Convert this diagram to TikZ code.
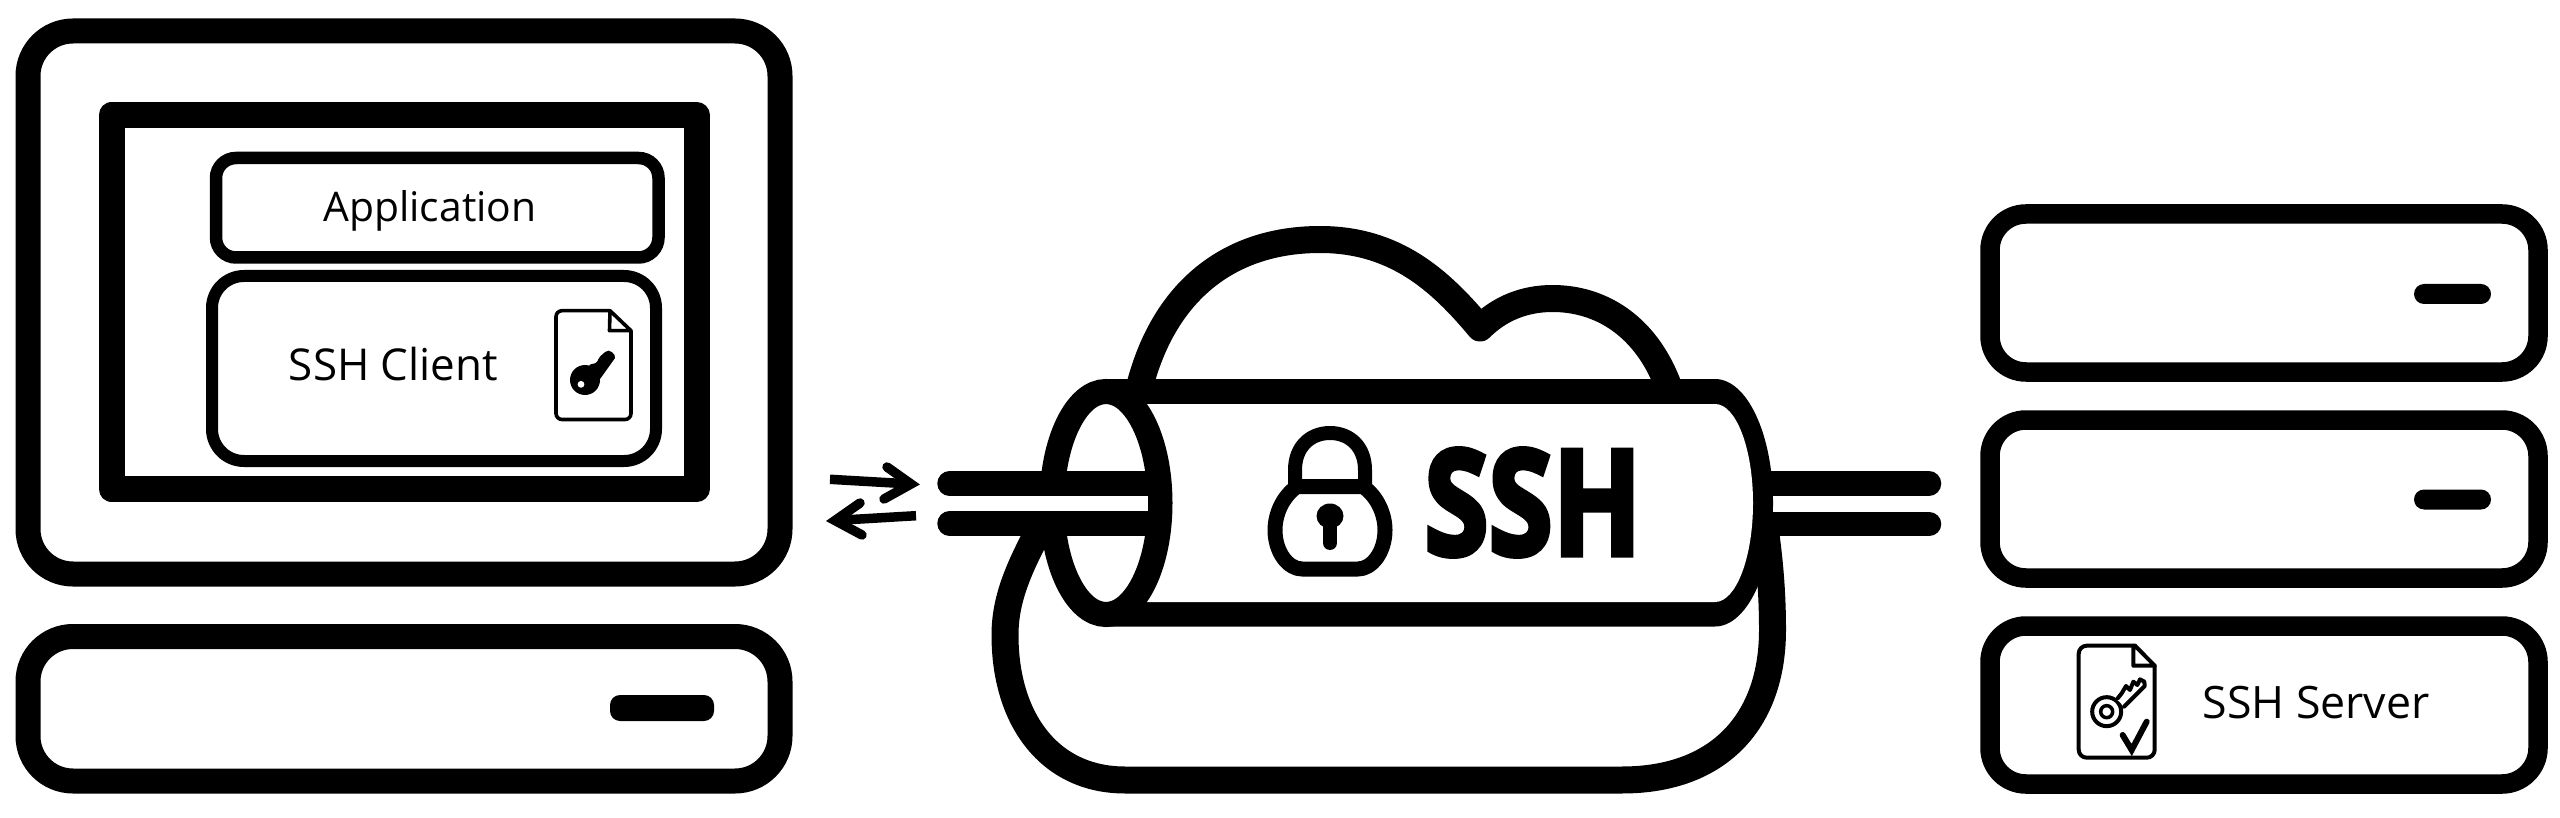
\documentclass[tikz,border=0pt]{standalone}
\usepackage{fontspec}
\usepackage{graphicx}
\setmainfont{Open Sans}
\newfontfamily\heavyf[BoldFeatures={FakeBold=4}]{Open Sans}
\tikzset{
  pic px/.style={x=1pt,y=-1pt},
  case/.style={draw=black,fill=white,line width=25pt,rounded corners=45pt,inner sep=0pt},
  screen/.style={draw=black,fill=white,line width=26pt,line join=round,inner sep=0pt},
  appbox/.style={draw=black,fill=white,line width=12.5pt,rounded corners=20pt,inner sep=0pt},
  clientbox/.style={draw=black,fill=white,line width=12pt,rounded corners=32pt,inner sep=0pt},
  serverbox/.style={draw=black,fill=white,line width=19.5pt,rounded corners=36pt,inner sep=0pt,minimum width=548pt,minimum height=158pt},
  slot/.style={fill=black,rounded corners=10pt,inner sep=0pt},
  label/.style={inner sep=0pt,text=black},
  pipe/.style={draw=black,line width=24.5pt},
  cloudline/.style={draw=black,line width=27pt,line join=round},
  arrowline/.style={draw=black,line width=9.5pt,line cap=round,miter limit=10},
  docline/.style={draw=black,line join=round,line cap=round},
}
\begin{document}
\begin{tikzpicture}[pic px]
\useasboundingbox (0,0) rectangle (2560,818);
\fill[white] (0,0) rectangle (2560,818);

% client
\node[case,minimum width=752pt,minimum height=543pt] (monitor) at (404,302.5) {};
\node[screen,minimum width=585pt,minimum height=374pt] (display) at (404,302) {};
\node[appbox,minimum width=442.5pt,minimum height=99.5pt] (appb) at (437.25,207.75) {};
\node[label] (applabel) at (430,211) {\resizebox{213pt}{!}{Application}};
\node[clientbox,minimum width=444pt,minimum height=185pt] (clientb) at (434,368.5) {};
\node[label] (clientlabel) at (393.5,364) {\resizebox{209pt}{!}{SSH Client}};
\node[case,minimum width=752pt,minimum height=144.5pt] (base) at (404,708.75) {};
\node[slot,minimum width=104pt,minimum height=26pt] (baseslot) at (662,708) {};

% client key file
\draw[docline,line width=3.6pt,rounded corners=6pt] (610,310.7) -- (556,310.7) -- (556,419.5) -- (631,419.5) -- (631,330.7);
\draw[docline,line width=3.6pt] (610,310.7) -- (631,330.7) -- (609.5,330.7) -- cycle;
\begin{scope}[shift={(520,290)},x=.33333pt,y=-.33333pt]
  \fill[black] (195,270) circle[radius=15pt];
  \fill[black,rounded corners=2pt] (205,225) -- (232,218) -- (236,203) -- (260,182) -- (272,182) -- (288,200) -- (238,270) -- cycle;
  \fill[white] (183,283) circle[radius=3.4pt];
\end{scope}

% exchange arrows
\coordinate (ra0) at (830,479.3);
\coordinate (ra1) at (911,484);
\coordinate (rb1) at (887,467);
\coordinate (rb2) at (884,499);
\draw[arrowline,line cap=butt] (ra0) -- (ra1);
\draw[arrowline] (rb1) -- (ra1) -- (rb2);
\coordinate (la0) at (916,515.7);
\coordinate (la1) at (835,520.5);
\coordinate (lb1) at (860,503);
\coordinate (lb2) at (862,535);
\draw[arrowline,line cap=butt] (la0) -- (la1);
\draw[arrowline] (lb1) -- (la1) -- (lb2);

% cloud
\draw[cloudline] (1140,385) .. controls (1165,290) and (1230,239.5) .. (1320,239.5)
  .. controls (1395,239.5) and (1440,280) .. (1480,328)
  .. controls (1500,308) and (1525,298.5) .. (1552.5,298.5)
  .. controls (1600,298.5) and (1645,325) .. (1668,385);
\draw[cloudline] (1038,532) .. controls (1018,570) and (1005,600) .. (1005,635)
  .. controls (1005,720) and (1050,780) .. (1125,780)
  -- (1622,780)
  .. controls (1720,780) and (1772.5,720) .. (1772.5,630)
  .. controls (1772.5,595) and (1770,565) .. (1766,535);

% server-side pipes
\coordinate (pr1) at (1929,483.5);
\coordinate (pr2) at (1929,524);
\coordinate (tr1) at (1740,483.5);
\coordinate (tr2) at (1740,524);
\draw[pipe,line cap=round] (tr1) -- (pr1);
\draw[pipe,line cap=round] (tr2) -- (pr2);

% tunnel
\fill[black] (1106,379) -- (1715,379)
  arc[start angle=90,end angle=-90,x radius=58pt,y radius=123.75pt]
  -- (1106,626.5) -- cycle;
\fill[white] (1106,404) -- (1715,404)
  arc[start angle=90,end angle=-90,x radius=38pt,y radius=99pt]
  -- (1106,602) -- cycle;
\draw[draw=black,fill=white,line width=25pt] (1106,503) ellipse[x radius=54pt,y radius=111.5pt];
\coordinate (pl1) at (949.5,483.5);
\coordinate (pl2) at (949.5,523.5);
\coordinate (te1) at (1155,483.5);
\coordinate (te2) at (1155,523.5);
\fill[white] (990,490) rectangle (1148,517);
\draw[pipe,line cap=round] (pl1) -- (te1);
\draw[pipe,line cap=round] (pl2) -- (te2);

% lock
\draw[draw=black,line width=14pt,line join=round] (1295,490) -- (1295,470)
  .. controls (1295,447) and (1310,433) .. (1330,433)
  .. controls (1350,433) and (1365,447) .. (1365,470) -- (1365,490);
\draw[draw=black,line width=15pt,line join=round] (1297,486.5) -- (1363,486.5)
  .. controls (1378,497) and (1385,515) .. (1385,530)
  .. controls (1385,552) and (1372,569) .. (1358,569) -- (1302,569)
  .. controls (1288,569) and (1275,552) .. (1275,530)
  .. controls (1275,515) and (1282,497) .. (1297,486.5) -- cycle;
\fill[black] (1330,516) ellipse[x radius=13.5pt,y radius=12.5pt];
\draw[draw=black,line width=14pt,line cap=round] (1330,517) -- (1330,543);
\node[label] (sshword) at (1533,502.5) {\resizebox{217pt}{105.5pt}{\heavyf\bfseries SSH}};

% servers
\node[serverbox] (srv1) at (2264,293) {};
\node[serverbox] (srv2) at (2264,499) {};
\node[serverbox] (srv3) at (2264,705) {};
\node[slot,minimum width=77pt,minimum height=20pt] (slot1) at (2452.5,294) {};
\node[slot,minimum width=77pt,minimum height=20pt] (slot2) at (2452.5,499.5) {};
\node[label] (serverlabel) at (2316,703) {\resizebox{227pt}{!}{SSH Server}};

% server key file
\draw[docline,line width=4pt,rounded corners=8pt] (2135,645.7) -- (2078.7,645.7) -- (2078.7,757.7) -- (2154.7,757.7) -- (2154.7,665.7);
\draw[docline,line width=4pt] (2135,645.7) -- (2154.7,665.7) -- (2133.3,665.7) -- (2133.3,647);
\begin{scope}[shift={(2050,630)},x=.33333pt,y=-.33333pt]
  \draw[black,line width=4pt] (170,245) circle[radius=14.5pt];
  \draw[black,line width=3.5pt] (170,245) circle[radius=6pt];
  \fill[white] (200,208) -- (272,148) -- (283,170) -- (222,228) -- cycle;
  \draw[docline,line width=4pt] (203,205) -- (215,190) -- (228,168) -- (240,180) -- (250,155) -- (262,165) -- (270,148) -- (283,155) -- (284,168) -- (222,230);
  \draw[black,line width=6pt,line cap=round] (218,315) -- (245,360) -- (290,275);
\end{scope}
\end{tikzpicture}
\end{document}
